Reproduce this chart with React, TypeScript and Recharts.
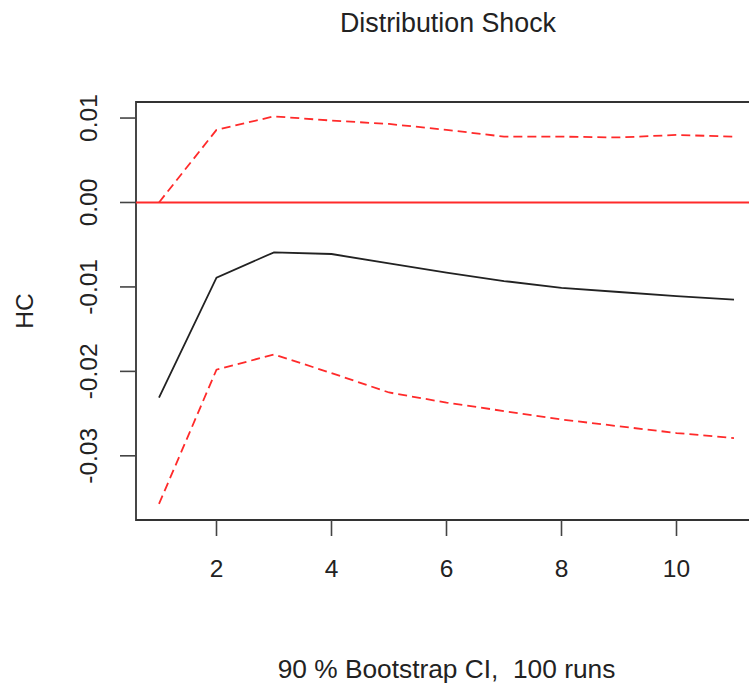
import { LineChart, Line, XAxis, YAxis, ReferenceLine, ReferenceArea } from 'recharts';

const STEPS = [1, 2, 3, 4, 5, 6, 7, 8, 9, 10, 11];
const RESPONSE = [-0.0231, -0.0089, -0.0059, -0.0061, -0.0072, -0.0083, -0.0093, -0.0101, -0.0106, -0.0111, -0.0115];
const UPPER = [0.0, 0.0086, 0.0102, 0.0097, 0.0093, 0.0086, 0.0078, 0.0078, 0.0077, 0.008, 0.0078];
const LOWER = [-0.0357, -0.0198, -0.018, -0.0202, -0.0225, -0.0237, -0.0247, -0.0257, -0.0265, -0.0273, -0.0279];
const X_TICKS = [2, 4, 6, 8, 10];
const Y_TICKS = [-0.03, -0.02, -0.01, 0, 0.01];

const X_DOMAIN: [number, number] = [0.6, 11.4];
const Y_DOMAIN: [number, number] = [-0.0376, 0.0119];

const FONT = '"Liberation Sans", Arial, Helvetica, sans-serif';
const INK = '#222';
const RED = '#ff2a2a';

const data = STEPS.map((s, i) => ({
  step: s,
  response: RESPONSE[i],
  upper: UPPER[i],
  lower: LOWER[i],
}));

const XTick = (props: any) => {
  const { x, y, payload } = props;
  return (
    <text x={x} y={y + 39} textAnchor="middle" fontSize={24.5} fontFamily={FONT} fill={INK}>
      {payload.value}
    </text>
  );
};

const YTick = (props: any) => {
  const { y, payload } = props;
  const bx = 97;
  return (
    <text
      x={bx}
      y={y}
      textAnchor="middle"
      fontSize={24.5}
      fontFamily={FONT}
      fill={INK}
      transform={`rotate(-90, ${bx}, ${y})`}
    >
      {payload.value.toFixed(2)}
    </text>
  );
};

export default function App() {
  return (
    <div
      style={{
        position: 'fixed',
        left: 0,
        top: 0,
        width: 749,
        height: 684,
        overflow: 'hidden',
        background: '#fff',
      }}
    >
      <svg width={749} height={60} style={{ position: 'absolute', left: 0, top: 0 }}>
        <text x={448} y={32} textAnchor="middle" fontSize={26.8} fontFamily={FONT} fill={INK}>
          Distribution Shock
        </text>
      </svg>
      <LineChart
        width={760}
        height={684}
        data={data}
        margin={{ top: 102, right: 3, bottom: 0, left: 0 }}
        style={{ position: 'absolute', left: 0, top: 0 }}
      >
        <XAxis
          dataKey="step"
          type="number"
          domain={X_DOMAIN}
          ticks={X_TICKS}
          allowDataOverflow
          height={164}
          tickSize={16}
          tickLine={{ stroke: '#444', strokeWidth: 1.6 }}
          axisLine={false}
          tick={<XTick />}
          label={{
            content: (p: any) => {
              const vb = p.viewBox;
              return (
                <text
                  x={vb.x + vb.width / 2}
                  y={vb.y + 158}
                  textAnchor="middle"
                  fontSize={26.3}
                  fontFamily={FONT}
                  fill={INK}
                  style={{ whiteSpace: 'pre' }}
                >
                  {'90 % Bootstrap CI,  100 runs'}
                </text>
              );
            },
          }}
        />
        <YAxis
          type="number"
          domain={Y_DOMAIN}
          ticks={Y_TICKS}
          allowDataOverflow
          width={136}
          tickSize={16}
          tickLine={{ stroke: '#444', strokeWidth: 1.6 }}
          axisLine={false}
          tick={<YTick />}
          label={{
            content: (p: any) => {
              const vb = p.viewBox;
              const cy = vb.y + vb.height / 2;
              return (
                <text
                  x={33}
                  y={cy}
                  textAnchor="middle"
                  fontSize={24.5}
                  fontFamily={FONT}
                  fill={INK}
                  transform={`rotate(-90, 33, ${cy})`}
                >
                  HC
                </text>
              );
            },
          }}
        />
        <ReferenceLine y={0} stroke={RED} strokeWidth={1.8} />
        <Line
          type="linear"
          dataKey="upper"
          stroke={RED}
          strokeWidth={1.8}
          strokeDasharray="9 5"
          dot={false}
          isAnimationActive={false}
        />
        <Line
          type="linear"
          dataKey="lower"
          stroke={RED}
          strokeWidth={1.8}
          strokeDasharray="9 5"
          dot={false}
          isAnimationActive={false}
        />
        <Line
          type="linear"
          dataKey="response"
          stroke={INK}
          strokeWidth={1.8}
          dot={false}
          isAnimationActive={false}
        />
        <ReferenceArea
          x1={X_DOMAIN[0]}
          x2={X_DOMAIN[1]}
          y1={Y_DOMAIN[0]}
          y2={Y_DOMAIN[1]}
          fill="none"
          fillOpacity={0}
          stroke="#333"
          strokeWidth={1.8}
          ifOverflow="visible"
        />
      </LineChart>
    </div>
  );
}
